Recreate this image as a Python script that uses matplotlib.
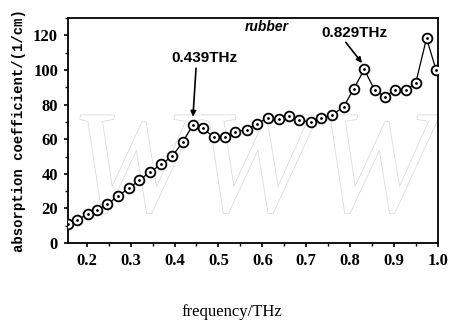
import matplotlib
matplotlib.use("Agg")
import matplotlib.pyplot as plt
import matplotlib.patheffects as pe
from matplotlib.ticker import MultipleLocator

# absorption spectrum of rubber
freq = [0.157, 0.178, 0.202, 0.223, 0.247, 0.271, 0.296, 0.320, 0.345, 0.370,
        0.395, 0.419, 0.442, 0.464, 0.489, 0.515, 0.538, 0.564, 0.588, 0.612,
        0.637, 0.661, 0.684, 0.711, 0.733, 0.758, 0.785, 0.808, 0.832, 0.856,
        0.880, 0.902, 0.927, 0.949, 0.974, 0.996]
alpha = [10.8, 13.5, 16.6, 19.0, 22.4, 27.2, 31.7, 36.3, 41.3, 45.5,
         50.2, 58.5, 68.4, 66.2, 61.4, 61.4, 64.3, 65.5, 69.0, 72.3,
         71.9, 73.2, 70.9, 70.0, 72.3, 73.8, 78.7, 89.0, 100.3, 88.3,
         84.5, 88.7, 88.7, 92.2, 118.3, 99.7]
xticks = [0.2, 0.3, 0.4, 0.5, 0.6, 0.7, 0.8, 0.9, 1.0]
yticks = [0, 20, 40, 60, 80, 100, 120]

fig = plt.figure(figsize=(4.52, 3.22), dpi=100)
ax = fig.add_axes([0.150, 0.245, 0.819, 0.699])

# faint watermark as in the scan
wm = ax.text(0.50, 0.30, "WWW", transform=ax.transAxes, ha="center", va="center",
             family="Liberation Serif", fontsize=105, fontstyle="italic",
             color="white", zorder=0, clip_on=True)
wm.set_path_effects([pe.withStroke(linewidth=1.2, foreground="#dcdcdc")])

ax.plot(freq, alpha, "-", color="black", lw=0.9, zorder=2)
ax.plot(freq, alpha, "o", ms=7, mfc="white", mec="black", mew=1.3, zorder=3)
ax.plot(freq, alpha, ".", ms=2, color="black", zorder=4)

ax.set_xlim(0.157, 0.998)
ax.set_ylim(0, 130)
ax.set_xticks(xticks)
ax.set_yticks(yticks)
ax.xaxis.set_minor_locator(MultipleLocator(0.05))
ax.yaxis.set_minor_locator(MultipleLocator(10))
ax.set_xticklabels([f"{t:.1f}" for t in xticks], family="Liberation Serif",
                   fontweight="bold", fontsize=12)
ax.set_yticklabels([str(t) for t in yticks], family="Liberation Serif",
                   fontweight="bold", fontsize=12)
ax.tick_params(which="major", direction="out", length=3, width=1.2, pad=4)
ax.tick_params(which="minor", direction="out", length=2, width=1)
for s in ax.spines.values():
    s.set_linewidth(1.3)

arrow = dict(arrowstyle="-|>", color="black", lw=1.2, shrinkA=0, shrinkB=0,
             mutation_scale=8)
ax.text(0.469, 107, "0.439THz", ha="center", va="center", family="Liberation Sans",
        fontweight="bold", fontsize=11)
ax.annotate("", xy=(0.442, 73), xytext=(0.449, 101), arrowprops=arrow)
ax.text(0.809, 121.5, "0.829THz", ha="center", va="center", family="Liberation Sans",
        fontweight="bold", fontsize=11)
ax.annotate("", xy=(0.827, 104), xytext=(0.790, 116), arrowprops=arrow)
ax.text(0.609, 125, "rubber", ha="center", va="center", family="Liberation Sans",
        fontweight="bold", fontstyle="italic", fontsize=10)

ax.set_ylabel("absorption coefficient/(1/cm)", family="Liberation Mono",
              fontweight="bold", fontsize=10, labelpad=5)
fig.text(0.512, 0.03, "frequency/THz", ha="center", va="center",
         family="Liberation Serif", fontsize=12)

fig.savefig("out.png", dpi=100)
